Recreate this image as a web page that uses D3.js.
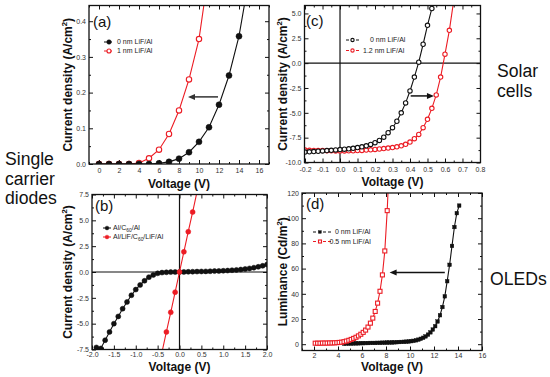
<!DOCTYPE html>
<html>
<head>
<meta charset="utf-8">
<script src="https://cdn.jsdelivr.net/npm/d3@7/dist/d3.min.js"></script>
<style>
  body { margin: 0; background: #fff; }
  svg { display: block; font-family: Arial, "Liberation Sans", Helvetica, sans-serif; }
</style>
</head>
<body>
<div id="chart"></div>
<script>
// ---------- data ----------

// (a) single carrier diodes, current density vs voltage
var aVoltBlack = [0, 1, 2, 3, 4, 5, 6, 7, 8, 9, 10, 11, 12, 13, 14, 15];
var aCurBlack  = [0, 0, 0, 0, 0, 0, 0.002, 0.006, 0.015, 0.033, 0.062, 0.103, 0.166, 0.248, 0.358, 0.52];
var aVoltRed   = [0, 1, 2, 3, 4, 5, 6, 7, 8, 9, 10, 11];
var aCurRed    = [0, 0, 0, 0, 0.003, 0.016, 0.04, 0.084, 0.15, 0.237, 0.35, 0.545];
var aArrow     = { from: [11.9, 0.188], to: [8.9, 0.188] };

// (b) single carrier diodes, symmetric sweep
var bVoltBlack = [-1.9, -1.8, -1.7, -1.6, -1.5, -1.4, -1.3, -1.2, -1.1, -1.0, -0.9, -0.8, -0.7, -0.6, -0.5,
                  -0.4, -0.3, -0.2, -0.1, 0, 0.1, 0.2, 0.3, 0.4, 0.5, 0.6, 0.7, 0.8, 0.9, 1.0,
                  1.1, 1.2, 1.3, 1.4, 1.5, 1.6, 1.7, 1.8, 1.9, 2.0];
var bCurBlack  = [-7.3, -7.4, -6.6, -5.8, -5.0, -4.3, -3.55, -2.9, -2.25, -1.7, -1.25, -0.85, -0.5, -0.28, -0.13,
                  -0.06, -0.03, -0.01, 0, 0, 0.01, 0.02, 0.03, 0.04, 0.05, 0.06, 0.07, 0.09, 0.1, 0.12,
                  0.14, 0.17, 0.2, 0.24, 0.29, 0.35, 0.42, 0.5, 0.6, 0.72];
var bVoltRed   = [-0.5, -0.3, -0.2, -0.1, 0, 0.1, 0.2, 0.3, 0.5];
var bCurRed    = [-9.7, -5.8, -3.9, -1.95, 0, 1.95, 3.9, 5.8, 9.7];

// (c) solar cells
var cVoltBlack = [-0.2, -0.175, -0.15, -0.125, -0.1, -0.075, -0.05, -0.025, 0, 0.025, 0.05, 0.075, 0.1, 0.125, 0.15,
                  0.175, 0.2, 0.225, 0.25, 0.275, 0.3, 0.325, 0.35, 0.375, 0.4, 0.425, 0.45, 0.475, 0.5, 0.525, 0.55];
var cCurBlack  = [-8.95, -8.93, -8.9, -8.87, -8.84, -8.8, -8.77, -8.73, -8.7, -8.66, -8.62, -8.57, -8.5, -8.42, -8.32,
                  -8.18, -8.0, -7.78, -7.45, -7.0, -6.5, -5.85, -5.0, -4.0, -2.8, -1.4, 0.1, 1.9, 3.8, 5.5, 7.5];
var cVoltRed   = [-0.2, -0.175, -0.15, -0.125, -0.1, -0.075, -0.05, -0.025, 0, 0.025, 0.05, 0.075, 0.1, 0.125, 0.15,
                  0.175, 0.2, 0.225, 0.25, 0.275, 0.3, 0.325, 0.35, 0.375, 0.4, 0.425, 0.45, 0.475, 0.5, 0.525,
                  0.55, 0.575, 0.6, 0.625, 0.675];
var cCurRed    = [-8.75, -8.77, -8.78, -8.8, -8.8, -8.82, -8.83, -8.84, -8.84, -8.84, -8.83, -8.82, -8.8, -8.78, -8.75,
                  -8.72, -8.68, -8.64, -8.6, -8.55, -8.5, -8.42, -8.32, -8.17, -7.94, -7.6, -7.17, -6.5, -5.65, -4.55,
                  -3.2, -1.4, 0.9, 3.3, 9.3];
var cArrow     = { from: [0.404, -3.3], to: [0.537, -3.3] };

// (d) OLEDs, luminance vs voltage
var dVoltBlack = [4.5, 4.7, 4.9, 5.1, 5.3, 5.5, 5.7, 5.9, 6.1, 6.3, 6.5, 6.7, 6.9, 7.1, 7.3, 7.5, 7.7, 7.9, 8.1, 8.3,
                  8.5, 8.7, 8.9, 9.1, 9.3, 9.5, 9.7, 9.9, 10.1, 10.3, 10.5, 10.7, 10.9, 11.1, 11.3, 11.5, 11.7, 11.9,
                  12.1, 12.3, 12.5, 12.7, 12.9, 13.1, 13.3, 13.5, 13.7, 13.9, 14.1];
var dLumBlack  = [0.4, 0.5, 0.5, 0.6, 0.6, 0.7, 0.7, 0.8, 0.8, 0.9, 0.9, 1.0, 1.0, 1.0, 1.1, 1.1, 1.2, 1.2, 1.3, 1.3,
                  1.4, 1.5, 1.6, 1.7, 1.8, 1.9, 2.0, 2.2, 2.4, 2.7, 3.1, 3.6, 4.3, 5.1, 6.2, 7.6, 9.4, 11.6,
                  14.3, 18, 23, 29.5, 38, 50, 63, 78, 93, 104, 110];
var dVoltRed   = [2.1, 2.3, 2.5, 2.7, 2.9, 3.1, 3.3, 3.5, 3.7, 3.9, 4.1, 4.3, 4.5, 4.7, 4.9, 5.1, 5.3, 5.5, 5.7, 5.9,
                  6.1, 6.3, 6.5, 6.7, 6.9, 7.1, 7.3, 7.5, 7.7, 7.9, 8.1, 8.3];
var dLumRed    = [0.8, 0.8, 0.8, 0.9, 0.9, 0.9, 1.0, 1.0, 1.1, 1.2, 1.4, 1.6, 2.0, 2.5, 3.1, 3.8, 4.6, 5.5, 6.6, 7.9,
                  9.4, 11.2, 13.6, 16.7, 20.7, 26, 32.6, 42, 55, 74, 106, 150];
var dArrow     = { from: [12.9, 57], to: [8.3, 57] };

// tick values
var aXTicks = [0, 2, 4, 6, 8, 10, 12, 14, 16];
var aYTicks = [0, 0.1, 0.2, 0.3, 0.4];
var bXTicks = [-2, -1.5, -1, -0.5, 0, 0.5, 1, 1.5, 2];
var bYTicks = [-7.5, -5, -2.5, 0, 2.5, 5, 7.5];
var cXTicks = [-0.2, -0.1, 0, 0.1, 0.2, 0.3, 0.4, 0.5, 0.6, 0.7, 0.8];
var cYTicks = [-10, -7.5, -5, -2.5, 0, 2.5, 5];
var dXTicks = [2, 4, 6, 8, 10, 12, 14, 16];
var dYTicks = [0, 20, 40, 60, 80, 100, 120];

var RED = "#ec1c24";
var BLACK = "#111";

var W = 550, H = 377;
var svg = d3.select("#chart").append("svg")
  .attr("width", W).attr("height", H);

var defs = svg.append("defs");

// minor ticks halfway between the majors
function minors(ticks, domain) {
  var step = ticks[1] - ticks[0];
  var out = [];
  var first = ticks[0] - step / 2;
  for (var v = first; v <= domain[1] + 1e-9; v += step / 2) {
    var isMajor = ticks.some(function(t){ return Math.abs(t - v) < 1e-9; });
    if (!isMajor && v >= domain[0] - 1e-9) out.push(v);
  }
  return out;
}

function drawMarkers(g, pts, s, x, y) {
  if (s.shape == "circle") {
    g.selectAll(null).data(pts).join("circle")
      .attr("cx", function(d){ return x(d[0]); })
      .attr("cy", function(d){ return y(d[1]); })
      .attr("r", s.size)
      .attr("fill", s.filled ? s.color : "#fff")
      .attr("stroke", s.color)
      .attr("stroke-width", s.filled ? 0.5 : 1.1);
  } else {
    g.selectAll(null).data(pts).join("rect")
      .attr("x", function(d){ return x(d[0]) - s.size; })
      .attr("y", function(d){ return y(d[1]) - s.size; })
      .attr("width", s.size * 2).attr("height", s.size * 2)
      .attr("fill", s.filled ? s.color : "#fff")
      .attr("stroke", s.color)
      .attr("stroke-width", s.filled ? 0.4 : 1.1);
  }
}

function drawArrow(g, arrow, x, y, color) {
  var x1 = x(arrow.from[0]), y1 = y(arrow.from[1]);
  var x2 = x(arrow.to[0]), y2 = y(arrow.to[1]);
  var dir = x2 > x1 ? 1 : -1;
  var len = 7, half = 3;
  g.append("line")
    .attr("x1", x1).attr("y1", y1).attr("x2", x2 - dir * len + dir).attr("y2", y2)
    .attr("stroke", color).attr("stroke-width", 1.5);
  g.append("path")
    .attr("d", "M" + x2 + "," + y2 + "L" + (x2 - dir * len) + "," + (y2 - half) +
               "L" + (x2 - dir * len) + "," + (y2 + half) + "Z")
    .attr("fill", color);
}

// label with optional sub/superscript parts: [text, "sub"|"sup"|"back", dy]
function richText(t, parts, size) {
  parts.forEach(function(p){
    var ts = t.append("tspan").text(p[0]);
    if (p[1] == "sup") ts.attr("font-size", size * 0.65).attr("dy", -size * 0.4);
    if (p[1] == "sub") ts.attr("font-size", size * 0.7).attr("dy", size * 0.25);
    if (p[1] == "back") ts.attr("dy", p[2]);
  });
}

function drawPanel(p) {
  var x = d3.scaleLinear().domain(p.xDomain).range([p.left, p.right]);
  var y = d3.scaleLinear().domain(p.yDomain).range([p.bottom, p.top]);
  var g = svg.append("g");

  defs.append("clipPath").attr("id", "clip-" + p.name)
    .append("rect")
    .attr("x", p.left).attr("y", p.top)
    .attr("width", p.right - p.left).attr("height", p.bottom - p.top);

  // axes: major with labels, then minor, on all four sides, ticks pointing inwards
  var xMin = minors(p.xTicks, p.xDomain), yMin = minors(p.yTicks, p.yDomain);
  var axes = [
    [d3.axisBottom(x).tickValues(p.xTicks).tickSize(-4).tickPadding(p.xPad).tickFormat(p.xFmt), "translate(0," + p.bottom + ")"],
    [d3.axisBottom(x).tickValues(xMin).tickSize(-2).tickFormat(""), "translate(0," + p.bottom + ")"],
    [d3.axisTop(x).tickValues(p.xTicks).tickSize(-4).tickFormat(""), "translate(0," + p.top + ")"],
    [d3.axisTop(x).tickValues(xMin).tickSize(-2).tickFormat(""), "translate(0," + p.top + ")"],
    [d3.axisLeft(y).tickValues(p.yTicks).tickSize(-4).tickPadding(3).tickFormat(p.yFmt), "translate(" + p.left + ",0)"],
    [d3.axisLeft(y).tickValues(yMin).tickSize(-2).tickFormat(""), "translate(" + p.left + ",0)"],
    [d3.axisRight(y).tickValues(p.yTicks).tickSize(-4).tickFormat(""), "translate(" + p.right + ",0)"],
    [d3.axisRight(y).tickValues(yMin).tickSize(-2).tickFormat(""), "translate(" + p.right + ",0)"]
  ];
  axes.forEach(function(a){
    var ax = g.append("g").attr("transform", a[1]).call(a[0]);
    ax.select(".domain").remove();
    ax.selectAll(".tick line").attr("stroke", BLACK).attr("stroke-width", 1);
    ax.selectAll(".tick text").attr("font-size", 7).attr("fill", "#333")
      .style("font-family", "Arial, 'Liberation Sans', sans-serif");
  });

  // zero lines through the origin
  if (p.zeroLines) {
    g.append("line").attr("x1", p.left).attr("x2", p.right)
      .attr("y1", y(0)).attr("y2", y(0)).attr("stroke", BLACK).attr("stroke-width", 1.2);
    g.append("line").attr("x1", x(0)).attr("x2", x(0))
      .attr("y1", p.top).attr("y2", p.bottom).attr("stroke", BLACK).attr("stroke-width", 1.2);
  }

  // curves
  var plot = g.append("g").attr("clip-path", "url(#clip-" + p.name + ")");
  var line = d3.line().x(function(d){ return x(d[0]); }).y(function(d){ return y(d[1]); });
  p.series.forEach(function(s){
    var pts = s.v.map(function(v, i){ return [v, s.j[i]]; });
    plot.append("path").datum(pts).attr("d", line)
      .attr("fill", "none").attr("stroke", s.color).attr("stroke-width", 1.1);
    drawMarkers(plot, pts, s, x, y);
  });

  if (p.arrow) drawArrow(g, p.arrow, x, y, p.arrowColor);

  // frame
  g.append("rect")
    .attr("x", p.left).attr("y", p.top)
    .attr("width", p.right - p.left).attr("height", p.bottom - p.top)
    .attr("fill", "none").attr("stroke", BLACK).attr("stroke-width", 1.3);

  // legend
  p.legend.forEach(function(l){
    var s = p.series[l.series];
    var ly = l.y;
    g.append("line").attr("x1", p.legX[0]).attr("x2", p.legX[1]).attr("y1", ly).attr("y2", ly)
      .attr("stroke", s.color).attr("stroke-width", 1.1).attr("stroke-dasharray", "3,2");
    var ms = { shape: s.shape, size: s.size * 0.75, filled: s.filled, color: s.color };
    drawMarkers(g, [[0, 0]], ms, function(){ return p.legX[2]; }, function(){ return ly; });
    var t = g.append("text").attr("x", l.x).attr("y", ly + 2.4)
      .attr("font-size", 7).attr("fill", "#222");
    richText(t, l.parts, 7);
  });

  // panel letter
  g.append("text").attr("x", p.tag[1]).attr("y", p.tag[2])
    .attr("font-size", 15).attr("fill", BLACK).text(p.tag[0]);

  // axis titles
  g.append("text")
    .attr("x", (p.left + p.right) / 2).attr("y", p.xTitleY)
    .attr("text-anchor", "middle").attr("font-size", 12).attr("font-weight", "bold")
    .attr("fill", BLACK).text("Voltage (V)");

  var yt = g.append("text")
    .attr("transform", "translate(" + p.yTitleX + "," + (p.top + p.bottom) / 2 + ") rotate(-90)")
    .attr("dy", "0.35em")
    .attr("text-anchor", "middle").attr("font-size", 12).attr("font-weight", "bold")
    .attr("fill", BLACK);
  richText(yt, p.yTitle, 12);
}

var f1 = d3.format(".1f");
var fInt = d3.format("d");
var fMinus = function(d){ return f1(d).replace("\u2212", "-"); };

var densityTitle = [["Current density (A/cm"], ["2", "sup"], [")", "back", 4.8]];

drawPanel({
  name: "a", left: 89, right: 269, top: 5.5, bottom: 164,
  xDomain: [-1, 17], yDomain: [0, 0.444],
  xTicks: aXTicks, yTicks: aYTicks, xFmt: fInt, yFmt: f1, xPad: 4.5,
  series: [
    { v: aVoltRed, j: aCurRed, color: RED, shape: "circle", filled: false, size: 2.7 },
    { v: aVoltBlack, j: aCurBlack, color: BLACK, shape: "circle", filled: true, size: 3 }
  ],
  arrow: aArrow, arrowColor: "#333",
  legX: [104, 114, 109],
  legend: [
    { series: 1, x: 117, y: 42, parts: [["0 nm LiF/Al"]] },
    { series: 0, x: 117, y: 51, parts: [["1 nm LiF/Al"]] }
  ],
  tag: ["(a)", 93, 27], xTitleY: 187.5, yTitleX: 68, yTitle: densityTitle
});

drawPanel({
  name: "b", left: 92, right: 267, top: 194.5, bottom: 349.5,
  xDomain: [-2, 2], yDomain: [-7.5, 7.5],
  xTicks: bXTicks, yTicks: bYTicks, xFmt: fMinus, yFmt: fMinus, xPad: 3,
  zeroLines: true,
  series: [
    { v: bVoltBlack, j: bCurBlack, color: BLACK, shape: "circle", filled: true, size: 2.5 },
    { v: bVoltRed, j: bCurRed, color: RED, shape: "circle", filled: true, size: 2.5 }
  ],
  legX: [103, 111, 107],
  legend: [
    { series: 0, x: 113, y: 228, parts: [["Al/C"], ["60", "sub"], ["/Al", "back", -1.75]] },
    { series: 1, x: 113, y: 237, parts: [["Al/LiF/C"], ["60", "sub"], ["/LiF/Al", "back", -1.75]] }
  ],
  tag: ["(b)", 95, 210.5], xTitleY: 371, yTitleX: 68, yTitle: densityTitle
});

drawPanel({
  name: "c", left: 304.5, right: 480.5, top: 5.5, bottom: 162.5,
  xDomain: [-0.203, 0.803], yDomain: [-10, 5.8],
  xTicks: cXTicks, yTicks: cYTicks, xFmt: fMinus, yFmt: fMinus, xPad: 4.5,
  zeroLines: true,
  series: [
    { v: cVoltRed, j: cCurRed, color: RED, shape: "circle", filled: false, size: 2.2 },
    { v: cVoltBlack, j: cCurBlack, color: BLACK, shape: "circle", filled: false, size: 2.2 }
  ],
  arrow: cArrow, arrowColor: BLACK,
  legX: [346, 359, 352.5],
  legend: [
    { series: 1, x: 370, y: 40, parts: [["0 nm LiF/Al"]] },
    { series: 0, x: 363, y: 50.5, parts: [["1.2 nm LiF/Al"]] }
  ],
  tag: ["(c)", 306, 26], xTitleY: 186, yTitleX: 283, yTitle: densityTitle
});

drawPanel({
  name: "d", left: 302, right: 482, top: 193, bottom: 350.5,
  xDomain: [1, 16], yDomain: [-5, 120],
  xTicks: dXTicks, yTicks: dYTicks, xFmt: fInt, yFmt: fInt, xPad: 3,
  series: [
    { v: dVoltBlack, j: dLumBlack, color: BLACK, shape: "square", filled: true, size: 1.8 },
    { v: dVoltRed, j: dLumRed, color: RED, shape: "square", filled: false, size: 2 }
  ],
  arrow: dArrow, arrowColor: BLACK,
  legX: [313, 331, 320],
  legend: [
    { series: 0, x: 335, y: 232, parts: [["0 nm LiF/Al"]] },
    { series: 1, x: 329.5, y: 241.5, parts: [["0.5 nm LiF/Al"]] }
  ],
  tag: ["(d)", 306, 209], xTitleY: 371, yTitleX: 283,
  yTitle: [["Luminance (Cd/m"], ["2", "sup"], [")", "back", 4.8]]
});

// side captions
var side = [
  { lines: ["Single", "carrier", "diodes"], x: 5, y: 165 },
  { lines: ["Solar", "cells"], x: 497, y: 77 },
  { lines: ["OLEDs"], x: 490, y: 285 }
];
side.forEach(function(s){
  s.lines.forEach(function(t, i){
    svg.append("text").attr("x", s.x).attr("y", s.y + i * 19.5)
      .attr("font-size", 17.6).attr("fill", BLACK).text(t);
  });
});
</script>
</body>
</html>
